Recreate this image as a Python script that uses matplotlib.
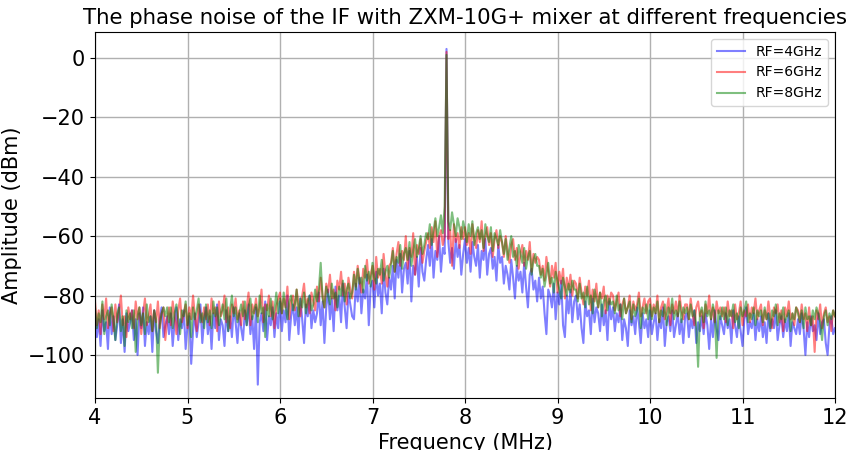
import numpy as np
import matplotlib
matplotlib.use("Agg")
import matplotlib.pyplot as plt

# Frequency axis (MHz), 0.02 MHz steps from 4 to 12
f_start, f_step, n_pts = 4.0, 0.02, 401

rf4_dbm = [
    -86, -94, -88, -97, -85, -92, -89, -98, -84, -93, -87, -95, -90, -83, -96, -88, -99, -86, -92, -89,
    -85, -95, -88, -100, -86, -91, -84, -97, -89, -93, -87, -99, -85, -92, -96, -88, -84, -94, -90, -87,
    -93, -86, -97, -89, -84, -95, -88, -91, -85, -98, -90, -87, -103, -92, -86, -94, -89, -83, -96, -88,
    -84, -93, -87, -98, -86, -91, -83, -95, -88, -90, -97, -85, -92, -87, -94, -84, -89, -96, -86, -91,
    -95, -85, -90, -83, -93, -87, -98, -84, -110, -89, -86, -92, -82, -95, -87, -90, -84, -94, -86, -91,
    -82, -92, -85, -89, -80, -95, -87, -83, -90, -84, -93, -81, -88, -96, -83, -87, -80, -91, -85, -89,
    -86, -79, -90, -82, -96, -84, -78, -88, -81, -92, -77, -85, -80, -89, -76, -84, -91, -79, -83, -87,
    -88, -76, -82, -74, -86, -78, -81, -73, -90, -77, -75, -84, -72, -80, -76, -86, -71, -79, -83, -74,
    -78, -70, -81, -68, -74, -66, -79, -71, -69, -76, -65, -82, -70, -73, -67, -77, -64, -72, -75, -68,
    -63, -70, -61, -74, -65, -68, -60, -72, -64, -66, 3, -62, -69, -64, -71, -61, -67, -63, -73, -66,
    -61, -69, -64, -72, -62, -67, -70, -63, -74, -65, -68, -61, -73, -66, -64, -71, -67, -75, -63, -69,
    -67, -76, -70, -73, -78, -68, -74, -81, -70, -75, -72, -79, -69, -77, -84, -73, -71, -78, -75, -82,
    -74, -81, -77, -86, -93, -78, -80, -84, -76, -88, -79, -83, -75, -90, -94, -80, -86, -78, -89, -82,
    -80, -88, -83, -91, -96, -82, -87, -85, -93, -81, -89, -84, -86, -92, -83, -90, -85, -95, -82, -88,
    -84, -92, -86, -89, -83, -95, -88, -91, -97, -85, -90, -87, -93, -84, -89, -96, -86, -91, -88, -94,
    -85, -93, -89, -86, -95, -88, -91, -84, -97, -89, -87, -92, -85, -94, -90, -86, -93, -88, -96, -87,
    -86, -94, -88, -91, -85, -96, -89, -92, -87, -93, -86, -90, -98, -88, -94, -85, -91, -95, -87, -90,
    -93, -86, -91, -88, -96, -85, -90, -94, -87, -92, -97, -88, -84, -93, -89, -91, -86, -95, -88, -92,
    -87, -94, -89, -96, -86, -92, -88, -91, -85, -95, -90, -87, -94, -88, -92, -86, -97, -89, -91, -93,
    -88, -93, -86, -91, -100, -89, -94, -87, -92, -90, -95, -86, -93, -89, -88, -96, -100, -90, -87, -93,
    -91,
]

rf6_dbm = [
    -82, -90, -85, -93, -83, -88, -81, -91, -86, -84, -92, -83, -89, -85, -80, -90, -87, -94, -84, -88,
    -85, -91, -82, -88, -84, -93, -86, -81, -90, -87, -83, -92, -85, -89, -82, -91, -86, -84, -95, -88,
    -84, -90, -82, -87, -93, -85, -81, -89, -86, -83, -91, -84, -88, -80, -87, -92, -83, -86, -89, -84,
    -88, -83, -90, -81, -86, -84, -92, -82, -87, -85, -80, -89, -84, -91, -83, -86, -81, -88, -85, -90,
    -82, -88, -84, -79, -90, -83, -86, -81, -87, -84, -78, -89, -83, -85, -80, -87, -82, -91, -84, -81,
    -79, -86, -81, -84, -77, -88, -82, -80, -85, -78, -83, -87, -80, -76, -84, -81, -86, -79, -82, -85,
    -77, -82, -74, -80, -84, -76, -79, -73, -81, -78, -85, -75, -78, -72, -80, -76, -83, -74, -78, -81,
    -72, -77, -70, -75, -79, -71, -74, -68, -76, -73, -70, -78, -67, -74, -71, -76, -66, -73, -77, -70,
    -69, -64, -72, -66, -62, -70, -65, -68, -60, -71, -64, -67, -59, -73, -63, -66, -61, -69, -65, -62,
    -59, -64, -57, -62, -55, -67, -60, -58, -63, -60, 2, -61, -58, -70, -56, -62, -59, -64, -57, -61,
    -57, -63, -59, -66, -56, -61, -64, -58, -62, -55, -65, -60, -57, -63, -59, -67, -61, -58, -64, -60,
    -62, -67, -60, -65, -69, -63, -61, -68, -64, -71, -66, -63, -70, -65, -68, -62, -72, -66, -69, -67,
    -68, -73, -70, -75, -67, -72, -77, -70, -74, -69, -79, -72, -76, -71, -81, -74, -78, -73, -80, -75,
    -76, -81, -74, -79, -83, -77, -80, -75, -85, -78, -82, -76, -84, -79, -81, -77, -86, -80, -83, -79,
    -80, -85, -82, -79, -87, -83, -81, -86, -84, -80, -88, -82, -85, -83, -79, -87, -84, -81, -86, -82,
    -81, -87, -83, -86, -80, -89, -84, -82, -88, -85, -81, -90, -83, -86, -82, -87, -80, -85, -88, -83,
    -83, -88, -81, -86, -90, -84, -82, -87, -85, -91, -83, -86, -80, -88, -84, -89, -82, -86, -84, -87,
    -84, -89, -82, -87, -85, -91, -83, -88, -86, -82, -90, -85, -87, -83, -89, -84, -86, -81, -88, -85,
    -83, -90, -85, -88, -82, -87, -91, -84, -86, -83, -89, -85, -92, -84, -87, -82, -88, -86, -90, -84,
    -85, -89, -83, -88, -86, -92, -84, -90, -87, -99, -85, -88, -83, -91, -86, -84, -89, -87, -92, -85,
    -87,
]

rf8_dbm = [
    -84, -91, -86, -89, -82, -93, -87, -85, -90, -83, -88, -95, -86, -84, -92, -87, -97, -85, -89, -86,
    -91, -85, -99, -87, -84, -90, -86, -93, -83, -89, -87, -92, -85, -88, -106, -90, -86, -84, -87, -84,
    -89, -84, -91, -86, -83, -88, -93, -85, -87, -82, -90, -86, -94, -84, -88, -85, -81, -89, -86, -91,
    -83, -89, -85, -91, -82, -87, -84, -90, -86, -83, -88, -81, -92, -85, -80, -87, -84, -89, -86, -83,
    -87, -82, -90, -84, -81, -88, -85, -83, -89, -80, -86, -84, -94, -83, -87, -81, -88, -85, -79, -86,
    -81, -86, -79, -84, -88, -82, -80, -85, -83, -78, -87, -81, -84, -79, -86, -82, -80, -85, -83, -78,
    -82, -78, -69, -81, -84, -77, -80, -83, -76, -81, -79, -84, -77, -80, -75, -82, -78, -76, -81, -79,
    -73, -78, -71, -76, -74, -79, -70, -75, -72, -77, -69, -74, -76, -71, -73, -68, -75, -72, -70, -74,
    -70, -65, -72, -67, -69, -63, -71, -66, -64, -68, -62, -70, -65, -61, -67, -64, -60, -66, -63, -59,
    -61, -56, -63, -58, -54, -60, -57, -53, -59, -50, 1, -55, -58, -52, -56, -60, -54, -57, -61, -55,
    -58, -62, -56, -60, -55, -63, -59, -57, -61, -58, -64, -56, -60, -62, -57, -65, -59, -61, -63, -58,
    -62, -66, -61, -68, -64, -60, -67, -65, -70, -63, -66, -69, -64, -71, -67, -65, -73, -68, -66, -70,
    -70, -74, -71, -77, -73, -69, -76, -74, -79, -72, -75, -78, -81, -74, -77, -80, -76, -79, -75, -78,
    -78, -82, -76, -81, -79, -84, -77, -83, -80, -86, -78, -81, -84, -79, -87, -82, -80, -85, -81, -83,
    -82, -86, -80, -85, -83, -88, -81, -86, -84, -82, -89, -83, -87, -85, -81, -91, -84, -86, -83, -88,
    -83, -88, -84, -86, -82, -89, -85, -87, -83, -90, -84, -86, -81, -88, -85, -87, -82, -89, -84, -86,
    -84, -88, -83, -87, -85, -90, -104, -86, -84, -89, -82, -87, -85, -88, -83, -86, -101, -85, -88, -84,
    -88, -84, -90, -85, -87, -83, -89, -86, -91, -84, -87, -85, -82, -89, -86, -88, -84, -90, -85, -87,
    -85, -89, -84, -88, -86, -91, -85, -87, -83, -90, -86, -88, -84, -89, -87, -85, -92, -86, -88, -84,
    -86, -89, -85, -91, -84, -88, -87, -90, -85, -88, -84, -86, -89, -95, -87, -85, -90, -86, -88, -85,
    -87,
]

series_labels = ["RF=4GHz", "RF=6GHz", "RF=8GHz"]
series_colors = ["blue", "red", "green"]
x_ticks = [4, 5, 6, 7, 8, 9, 10, 11, 12]
y_ticks = [-100, -80, -60, -40, -20, 0]

freq = f_start + f_step * np.arange(n_pts)

fig = plt.figure(figsize=(8.47, 4.5), dpi=100)
ax = fig.add_axes([95 / 847, 1 - 398 / 450, 740 / 847, 366 / 450])

for vals, lab, col in zip([rf4_dbm, rf6_dbm, rf8_dbm], series_labels, series_colors):
    ax.plot(freq, vals, color=col, alpha=0.5, lw=1.5, label=lab)

ax.set_xlim(4, 12)
ax.set_ylim(-114.5, 8.7)
ax.set_xticks(x_ticks)
ax.set_yticks(y_ticks)
ax.tick_params(labelsize=15)
ax.grid(True, color="#b0b0b0", lw=1.0)
ax.set_xlabel("Frequency (MHz)", fontsize=15)
ax.set_ylabel("Amplitude (dBm)", fontsize=15)
ax.set_title("The phase noise of the IF with ZXM-10G+ mixer at different frequencies",
             fontsize=15.3)
ax.legend(loc="upper right", fontsize=10)

fig.savefig("out.png", dpi=100)
